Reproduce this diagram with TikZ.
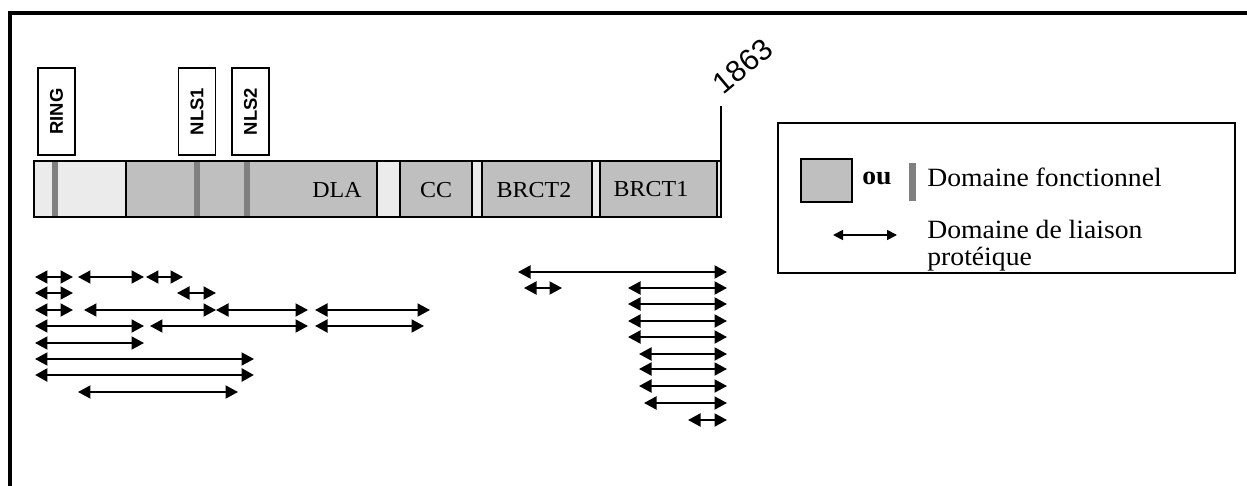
\documentclass[tikz,border=0pt]{standalone}
\usepackage{fontspec}
\setmainfont{Liberation Serif}[FakeStretch=1.05]
\newfontfamily\arial{Liberation Sans}
\usetikzlibrary{arrows.meta}
\definecolor{domfill}{gray}{0.75}
\definecolor{pale}{gray}{0.92}
\definecolor{motif}{gray}{0.5}
\tikzset{
  seg/.style={draw=black,line width=0.9pt,fill=domfill},
  tag/.style={draw,fill=white,line width=0.9pt,rotate=90,minimum width=1.74cm,minimum height=0.74cm,inner sep=0pt,font=\arial\bfseries\fontsize{10.5}{12}\selectfont},
  dlabel/.style={font=\fontsize{13}{15}\selectfont,anchor=base},
  bind/.style={{Triangle[length=0.25cm,width=0.26cm]}-{Triangle[length=0.25cm,width=0.26cm]},line width=1.1pt},
  legtext/.style={font=\fontsize{15}{17}\selectfont,anchor=base west,inner sep=0pt}
}
\begin{document}
\begin{tikzpicture}[x=0.02cm,y=-0.02cm]
\useasboundingbox (0,0) rectangle (1247,486);
\draw[line width=2.5pt] (10,486) -- (10,13) -- (1247,13);
\fill[pale] (34,161) rectangle (721,217);
\draw[seg] (126,161) rectangle (377,217);
\draw[seg] (400,161) rectangle (472,217);
\draw[seg] (482,161) rectangle (592,217);
\draw[seg] (600,161) rectangle (717,217);
\foreach \x in {55,197,247}
  \fill[motif] (\x-3,161) rectangle (\x+3,217);
\draw[line width=1.1pt] (34,161) rectangle (721,217);
\draw[line width=1.1pt] (721,161) -- (721,106);
\node[anchor=south west,rotate=40,inner sep=0pt,font=\arial\fontsize{17}{19}\selectfont] (fin) at (724,96) {1863};
\node[tag] (ring) at (56.5,111.5) {RING};
\node[tag] (nlsa) at (197,111.5) {NLS1};
\node[tag] (nlsb) at (250.5,111.5) {NLS2};
\node[dlabel] (dla) at (337,198) {DLA};
\node[dlabel] (cc) at (436,198) {CC};
\node[dlabel] (brctb) at (534,198) {BRCT2};
\node[dlabel] (brcta) at (651,197) {BRCT1};
\foreach \y/\a/\b in {277/35/73,277/78/144,277/146/183,
    293/35/73,293/177/216,
    310/35/73,310/84/216,310/216/308,310/315/430,
    326/35/144,326/150/308,326/315/424,
    343/35/144,359/35/254,392/78/238,
    272/518/727,288/524/562,288/628/727,304/628/727,321/628/727,337/628/727,
    354/639/727,369/639/727,386/639/727,403/644/727,420/688/727}
  \draw[bind] (\a,\y) -- (\b,\y);
\draw[bind,line width=1.6pt] (35,375) -- (254,375);
\draw[line width=1.1pt] (778,123) rectangle (1235,273);
\draw[fill=domfill,line width=0.9pt] (801,159) rectangle (852,202);
\fill[motif] (909,163) rectangle (916,201);
\node[legtext] (ou) at (862,185) {\textbf{ou}};
\node[legtext] (fonc) at (927,187) {Domaine fonctionnel};
\draw[{Triangle[length=0.2cm,width=0.2cm]}-{Triangle[length=0.2cm,width=0.2cm]},line width=1pt] (833,235) -- (897,235);
\node[legtext] (liais) at (927,238) {Domaine de liaison};
\node[legtext] (prot) at (927,265) {protéique};
\end{tikzpicture}
\end{document}
